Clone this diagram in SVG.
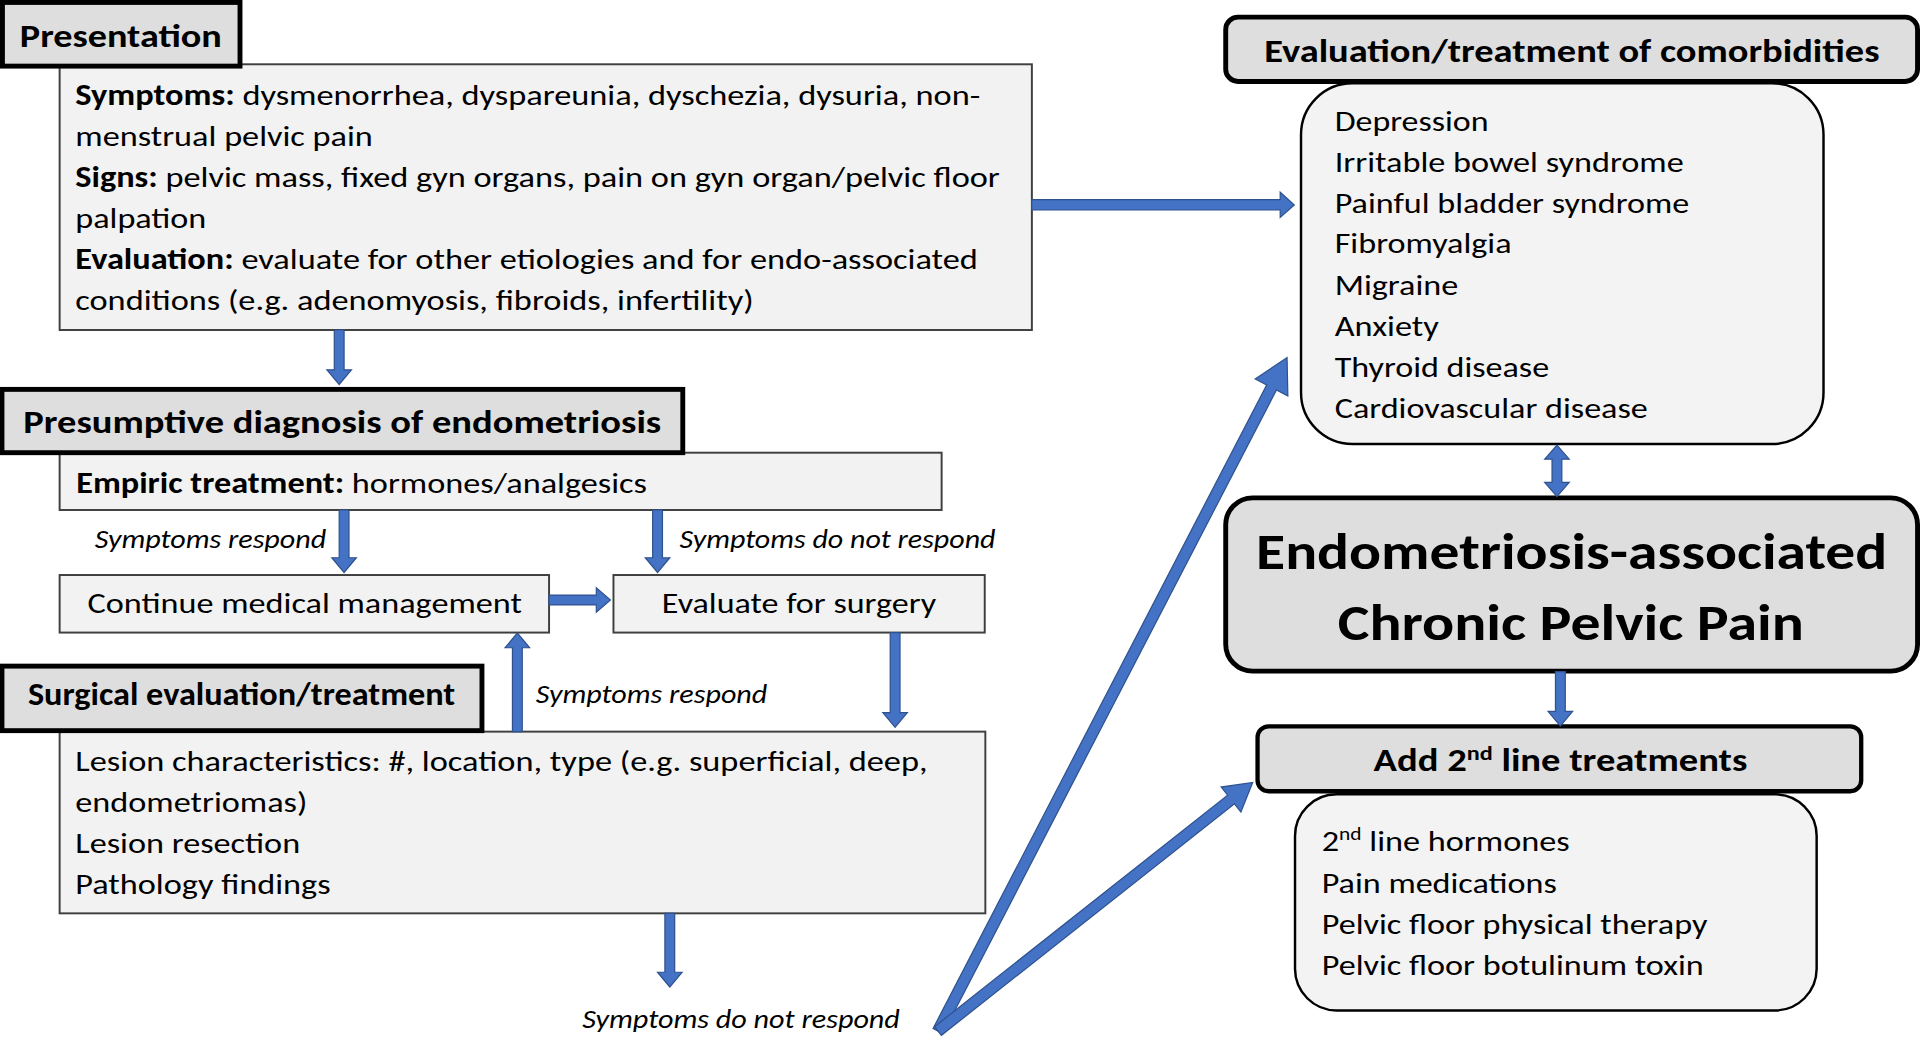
<svg xmlns="http://www.w3.org/2000/svg" width="1920" height="1037" viewBox="0 0 1920 1037">
<defs>
<style>
.bg{fill:#ffffff}
.hdr{fill:#dedede;stroke:#000;stroke-width:4}
.box{fill:#f2f2f2;stroke:#3f3f3f;stroke-width:1.6}
.rbox{fill:#f3f3f3;stroke:#000;stroke-width:2}
.t{font-family:Carlito,Lato,"Open Sans","Liberation Sans",sans-serif;font-size:24px;fill:#000}
.b{font-weight:bold}
.h{font-family:Carlito,Lato,"Open Sans","Liberation Sans",sans-serif;font-weight:bold;font-size:25.5px;fill:#000}
.i{font-family:Carlito,Lato,"Open Sans","Liberation Sans",sans-serif;font-style:italic;font-size:22px;fill:#000}
.big{font-family:Carlito,Lato,"Open Sans","Liberation Sans",sans-serif;font-weight:bold;font-size:42px;fill:#000}
.arr{fill:#4472c4;stroke:#2f528f;stroke-width:1}
</style>
</defs>
<rect class="bg" x="0" y="0" width="1920" height="1037"/>
<g transform="scale(1.2244898)">

<g id="presentation">
<rect class="box" x="48.7" y="52.5" width="794" height="217"/>
<rect class="hdr" x="2" y="2" width="194" height="52"/>
<text class="h" x="16.2" y="38" textLength="165" lengthAdjust="spacingAndGlyphs">Presentation</text>
<text class="t" x="61.5" y="85.5" textLength="739" lengthAdjust="spacingAndGlyphs"><tspan class="b">Symptoms:</tspan> dysmenorrhea, dyspareunia, dyschezia, dysuria, non-</text>
<text class="t" x="61.5" y="119" textLength="243" lengthAdjust="spacingAndGlyphs">menstrual pelvic pain</text>
<text class="t" x="61.5" y="152.5" textLength="755" lengthAdjust="spacingAndGlyphs"><tspan class="b">Signs:</tspan> pelvic mass, fixed gyn organs, pain on gyn organ/pelvic floor</text>
<text class="t" x="61.5" y="186" textLength="107" lengthAdjust="spacingAndGlyphs">palpation</text>
<text class="t" x="61.5" y="220" textLength="737" lengthAdjust="spacingAndGlyphs"><tspan class="b">Evaluation:</tspan> evaluate for other etiologies and for endo-associated</text>
<text class="t" x="61.5" y="253" textLength="554" lengthAdjust="spacingAndGlyphs">conditions (e.g. adenomyosis, fibroids, infertility)</text>
</g>

<g id="presumptive">
<rect class="box" x="48.7" y="369.7" width="720.3" height="46.8"/>
<rect class="hdr" x="1.6" y="318" width="556" height="51.7"/>
<text class="h" x="19" y="354" textLength="521" lengthAdjust="spacingAndGlyphs">Presumptive diagnosis of endometriosis</text>
<text class="t" x="62.3" y="402.4" textLength="466" lengthAdjust="spacingAndGlyphs"><tspan class="b">Empiric treatment:</tspan> hormones/analgesics</text>
</g>

<g id="continue">
<rect class="box" x="48.7" y="469.6" width="399.7" height="47"/>
<text class="t" x="71.5" y="501" textLength="354.7" lengthAdjust="spacingAndGlyphs">Continue medical management</text>
</g>

<g id="evaluate">
<rect class="box" x="501" y="469.6" width="303.2" height="47"/>
<text class="t" x="540.5" y="501" textLength="224" lengthAdjust="spacingAndGlyphs">Evaluate for surgery</text>
</g>

<g id="surgical">
<rect class="box" x="48.7" y="597.5" width="756" height="148.4"/>
<rect class="hdr" x="1.6" y="544" width="392" height="52.7"/>
<text class="h" x="22.8" y="576" textLength="349" lengthAdjust="spacingAndGlyphs">Surgical evaluation/treatment</text>
<text class="t" x="61.5" y="629.4" textLength="696" lengthAdjust="spacingAndGlyphs">Lesion characteristics: #, location, type (e.g. superficial, deep,</text>
<text class="t" x="61.5" y="662.9" textLength="189.5" lengthAdjust="spacingAndGlyphs">endometriomas)</text>
<text class="t" x="61.5" y="696.9" textLength="183.6" lengthAdjust="spacingAndGlyphs">Lesion resection</text>
<text class="t" x="61.5" y="730.1" textLength="208.5" lengthAdjust="spacingAndGlyphs">Pathology findings</text>
</g>

<g id="comorbidities">
<rect class="hdr" x="1001" y="14" width="565" height="52.5" rx="10"/>
<text class="h" x="1032.5" y="50.4" textLength="502.4" lengthAdjust="spacingAndGlyphs">Evaluation/treatment of comorbidities</text>
<rect class="rbox" x="1062.5" y="68" width="426.7" height="294.6" rx="42"/>
<text class="t" x="1090" y="106.7" textLength="125.6" lengthAdjust="spacingAndGlyphs">Depression</text>
<text class="t" x="1090" y="140.2" textLength="285" lengthAdjust="spacingAndGlyphs">Irritable bowel syndrome</text>
<text class="t" x="1090" y="173.7" textLength="289.5" lengthAdjust="spacingAndGlyphs">Painful bladder syndrome</text>
<text class="t" x="1090" y="206.9" textLength="144.4" lengthAdjust="spacingAndGlyphs">Fibromyalgia</text>
<text class="t" x="1090" y="240.9" textLength="100.9" lengthAdjust="spacingAndGlyphs">Migraine</text>
<text class="t" x="1090" y="274.4" textLength="85.1" lengthAdjust="spacingAndGlyphs">Anxiety</text>
<text class="t" x="1090" y="307.6" textLength="175.1" lengthAdjust="spacingAndGlyphs">Thyroid disease</text>
<text class="t" x="1090" y="341.6" textLength="255.7" lengthAdjust="spacingAndGlyphs">Cardiovascular disease</text>
</g>

<g id="main">
<rect class="hdr" x="1001" y="406.6" width="565" height="141.5" rx="22"/>
<text class="big" x="1025.8" y="464.3" textLength="515.5" lengthAdjust="spacingAndGlyphs">Endometriosis-associated</text>
<text class="big" x="1092.5" y="523" textLength="380.6" lengthAdjust="spacingAndGlyphs">Chronic Pelvic Pain</text>
</g>

<g id="second-line">
<rect class="hdr" x="1027" y="593.2" width="493" height="53" rx="9" style="stroke-width:3.5"/>
<text class="h" x="1121.8" y="629.7" textLength="305.2" lengthAdjust="spacingAndGlyphs">Add 2<tspan dy="-9" font-size="16">nd</tspan><tspan dy="9"> line treatments</tspan></text>
<rect class="rbox" x="1057.6" y="648.7" width="426" height="176.5" rx="34"/>
<text class="t" x="1079.4" y="694.7" textLength="202.5" lengthAdjust="spacingAndGlyphs">2<tspan dy="-9" font-size="15">nd</tspan><tspan dy="9"> line hormones</tspan></text>
<text class="t" x="1079.4" y="728.9" textLength="192" lengthAdjust="spacingAndGlyphs">Pain medications</text>
<text class="t" x="1079.4" y="762.4" textLength="315" lengthAdjust="spacingAndGlyphs">Pelvic floor physical therapy</text>
<text class="t" x="1079.4" y="796.6" textLength="312" lengthAdjust="spacingAndGlyphs">Pelvic floor botulinum toxin</text>
</g>

<g id="connectors">
<polygon class="arr" points="273,269.5 281,269.5 281,302 287,302 277,314 267,302 273,302"/>
<polygon class="arr" points="277,416.5 285,416.5 285,455.5 291,455.5 281,467.5 271,455.5 277,455.5"/>
<polygon class="arr" points="533,416.5 541,416.5 541,455.5 547,455.5 537,467.5 527,455.5 533,455.5"/>
<polygon class="arr" points="448.4,486 487,486 487,480 498.5,490 487,500 487,494 448.4,494"/>
<polygon class="arr" points="727,516.6 735,516.6 735,582 741,582 731,594 721,582 727,582"/>
<polygon class="arr" points="418.5,597.5 426.5,597.5 426.5,529 432.5,529 422.5,517 412.5,529 418.5,529"/>
<polygon class="arr" points="543,746 551,746 551,794 557,794 547,806 537,794 543,794"/>
<polygon class="arr" points="842.6,163 1045.5,163 1045.5,157 1057,167.4 1045.5,177.5 1045.5,171.5 842.6,171.5"/>
<polygon class="arr" points="1271.5,363.5 1281.5,375 1275.5,375 1275.5,394 1281.5,394 1271.5,405.5 1261.5,394 1267.5,394 1267.5,375 1261.5,375"/>
<polygon class="arr" points="1270.3,548.5 1278.3,548.5 1278.3,581 1284.3,581 1274.3,593 1264.3,581 1270.3,581"/>
<path class="arr" transform="translate(766,842) rotate(-62.6)" d="M0,-4.5 L592,-4.5 L592,-15 L619.5,0 L592,15 L592,4.5 L0,4.5 Z"/>
<path class="arr" transform="translate(766,842) rotate(-38.3)" d="M0,-4.5 L305,-4.5 L305,-13 L327.5,0 L305,13 L305,4.5 L0,4.5 Z"/>
<text class="i" x="77.4" y="447.8" textLength="189" lengthAdjust="spacingAndGlyphs">Symptoms respond</text>
<text class="i" x="555" y="447.8" textLength="258" lengthAdjust="spacingAndGlyphs">Symptoms do not respond</text>
<text class="i" x="437.6" y="574" textLength="189" lengthAdjust="spacingAndGlyphs">Symptoms respond</text>
<text class="i" x="475.5" y="839.8" textLength="259.4" lengthAdjust="spacingAndGlyphs">Symptoms do not respond</text>
</g>

</g>
</svg>
